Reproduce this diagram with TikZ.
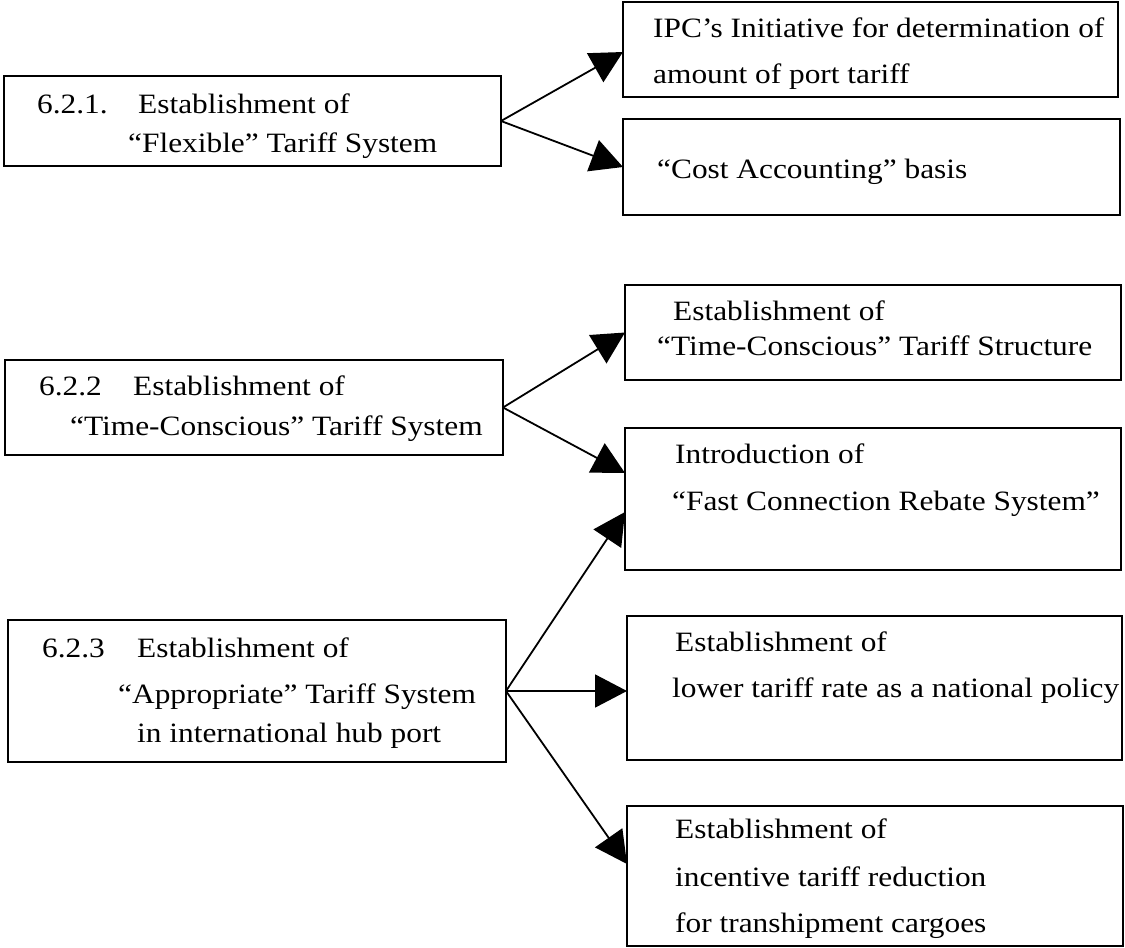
\documentclass[tikz,border=0pt]{standalone}
\usepackage{fontspec}
\setmainfont{Liberation Serif}[FakeStretch=1.12]
\usetikzlibrary{arrows.meta}

\begin{document}
\begin{tikzpicture}[x=1pt,y=-1pt,
  box/.style={draw, line width=1.9pt, rectangle, inner sep=0pt, outer sep=0pt, anchor=north west},
  txt/.style={anchor=base west, inner sep=0pt, font=\fontsize{28}{34}\selectfont},
  link/.style={line width=1.8pt, -{Triangle[length=32pt,width=33pt]}}]

\useasboundingbox (0,0) rectangle (1125,948);

% left column: the three tariff systems
\node[box, minimum width=497pt, minimum height=90pt]  (L1) at (4,76) {};
\node[box, minimum width=498pt, minimum height=95pt]  (L2) at (5,360) {};
\node[box, minimum width=498pt, minimum height=142pt] (L3) at (8,620) {};

% right column: the measures
\node[box, minimum width=495pt, minimum height=95pt]  (R1) at (623,2) {};
\node[box, minimum width=497pt, minimum height=96pt]  (R2) at (623,119) {};
\node[box, minimum width=496pt, minimum height=95pt]  (R3) at (625,285) {};
\node[box, minimum width=496pt, minimum height=142pt] (R4) at (625,428) {};
\node[box, minimum width=495pt, minimum height=144pt] (R5) at (627,616) {};
\node[box, minimum width=496pt, minimum height=140pt] (R6) at (627,806) {};

% texts of the left boxes
\node[txt] (l1a) at (37,113) {6.2.1.};
\node[txt] (l1b) at (138,113) {Establishment of};
\node[txt] (l1c) at (128,152) {“Flexible” Tariff System};

\node[txt] (l2a) at (39,395) {6.2.2};
\node[txt] (l2b) at (133,395) {Establishment of};
\node[txt] (l2c) at (70,435) {“Time-Conscious” Tariff System};

\node[txt] (l3a) at (42,657) {6.2.3};
\node[txt] (l3b) at (137,657) {Establishment of};
\node[txt] (l3c) at (118,703) {“Appropriate” Tariff System};
\node[txt] (l3d) at (137,742) {in international hub port};

% texts of the right boxes
\node[txt] (r1a) at (653,37) {IPC’s Initiative for determination of};
\node[txt] (r1b) at (653,83) {amount of port tariff};

\node[txt] (r2a) at (657,178) {“Cost Accounting” basis};

\node[txt] (r3a) at (673,320) {Establishment of};
\node[txt] (r3b) at (657,355) {“Time-Conscious” Tariff Structure};

\node[txt] (r4a) at (675,463) {Introduction of};
\node[txt] (r4b) at (672,510) {“Fast Connection Rebate System”};

\node[txt] (r5a) at (675,651) {Establishment of};
\node[txt] (r5b) at (672,697) {lower tariff rate as a national policy};

\node[txt] (r6a) at (675,838) {Establishment of};
\node[txt] (r6b) at (675,886) {incentive tariff reduction};
\node[txt] (r6c) at (675,932) {for transhipment cargoes};

% connectors
\draw[link] (L1.east) -- ([yshift=-2.5pt]R1.west);
\draw[link] (L1.east) -- (R2.west);
\draw[link] (L2.east) -- (R3.west);
\draw[link] (L2.east) -- ([yshift=26pt]R4.west);
\draw[link] (L3.east) -- ([yshift=-13pt]R4.west);
\draw[link] (L3.east) -- (L3.east -| R5.west);
\draw[link] (L3.east) -- ([yshift=12pt]R6.west);
\end{tikzpicture}
\end{document}
